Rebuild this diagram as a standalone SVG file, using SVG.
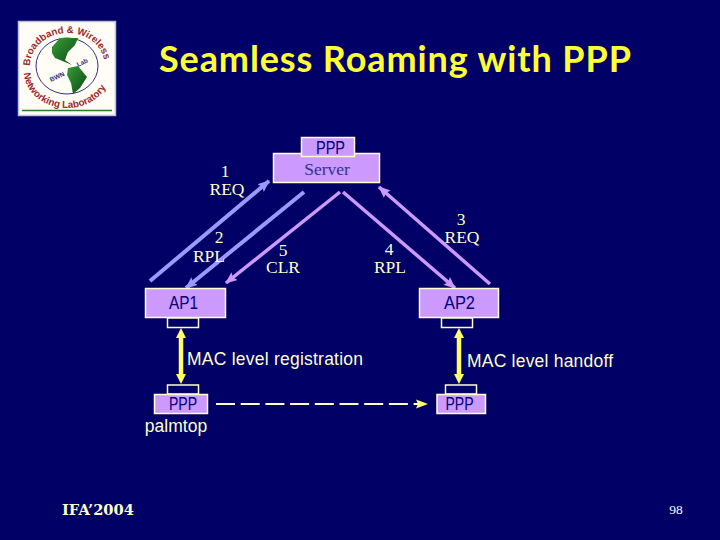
<svg xmlns="http://www.w3.org/2000/svg" width="720" height="540" viewBox="0 0 720 540">
<style>
.box{fill:#cc99ff;stroke:#ffffcc;stroke-width:1.5}
.tab{fill:#000066;stroke:#ffffcc;stroke-width:1.5}
.sans{font-family:"Liberation Sans",Arial,sans-serif}
.serif{font-family:"Liberation Serif","Times New Roman",serif}
.lbl{fill:#ffffcc;font-size:17.5px;text-anchor:middle}
.nm{fill:#000080;font-size:18px;font-weight:500}
.blue{stroke:#9999ff;stroke-width:4;fill:none}
.pur{stroke:#cc99ff;stroke-width:3.5;fill:none}
.yel{stroke:#ffff66;stroke-width:4.5;fill:none}
.lg{font-family:"Liberation Sans",sans-serif;font-size:9.8px;font-weight:bold;fill:#9a2a2a}
</style>
<defs>
<marker id="ab" markerUnits="userSpaceOnUse" markerWidth="14" markerHeight="14" refX="11" refY="7" orient="auto"><path d="M0 2L12 7L0 12L2 7Z" fill="#9999ff"/></marker>
<marker id="ap" markerUnits="userSpaceOnUse" markerWidth="14" markerHeight="14" refX="11" refY="7" orient="auto"><path d="M0 2L12 7L0 12L2 7Z" fill="#cc99ff"/></marker>
<marker id="ay" markerUnits="userSpaceOnUse" markerWidth="12" markerHeight="12" refX="1" refY="6" orient="auto-start-reverse"><path d="M0 1L10 6L0 11Z" fill="#ffff66"/></marker>
<path id="lt" d="M30 66A37.500 33 0 0 1 105 66"/>
<path id="lb" d="M24 72A43 36 0 0 0 110 72"/>
<linearGradient id="gr" x1="0" y1="0" x2="1" y2="1"><stop offset="0" stop-color="#3a9a3a"/><stop offset="1" stop-color="#064a10"/></linearGradient>
</defs>
<rect width="720" height="540" fill="#000066"/>
<g id="logo">
<rect x="18.500" y="21.500" width="97" height="94" fill="#fffdf5" stroke="#b8c0d8" stroke-width="1.500"/>
<ellipse cx="67" cy="66" rx="31" ry="28" fill="none" stroke="#303080"/>
<path d="M52 47L60 38L78 38L75 45L68 52L65 60L72 65L65 62L55 58L52 53Z" fill="url(#gr)"/>
<path d="M68 68L78 66L87 77L80 88L73 94L71 83L67 75Z" fill="url(#gr)"/>
<path d="M22 110.500H112" stroke="#2a7a2a" stroke-width="1.500"/>
<text class="lg"><textPath href="#lt" startOffset="0">Broadband &amp; Wireless</textPath></text>
<text class="lg"><textPath href="#lb" startOffset="1">Networking Laboratory</textPath></text>
<text x="51" y="82" font-family="Liberation Sans,sans-serif" font-size="6.500" font-weight="bold" fill="#303080" transform="rotate(-25 51 82)">BWN</text>
<text x="78" y="67" font-family="Liberation Sans,sans-serif" font-size="6.500" font-weight="bold" fill="#303080" transform="rotate(-25 78 67)">Lab</text>
</g>
<text x="159" y="72" font-family="Lato,'Open Sans',sans-serif" font-size="36" font-weight="bold" fill="#ffff33" textLength="472" lengthAdjust="spacing">Seamless Roaming with PPP</text>
<g id="connectors">
<path class="blue" d="M150 281L269 181" marker-end="url(#ab)"/>
<path class="blue" d="M304 192L186 288" marker-end="url(#ab)"/>
<path class="pur" d="M340 192L226 283" marker-end="url(#ap)"/>
<path class="pur" d="M343 192L455 288" marker-end="url(#ap)"/>
<path class="pur" d="M490 284L379 187" marker-end="url(#ap)"/>
<path class="yel" d="M181 337V375" marker-start="url(#ay)" marker-end="url(#ay)"/>
<path class="yel" d="M459 337V375" marker-start="url(#ay)" marker-end="url(#ay)"/>
<path d="M216 404H420" stroke="#ffffcc" stroke-width="2" stroke-dasharray="19 5.700" fill="none"/>
<path d="M416 399.500L428 404L416 408.500L418 404Z" fill="#ffff66"/>
</g>
<g id="server">
<rect class="box" x="273.500" y="153.500" width="106" height="29"/>
<rect class="box" x="301.500" y="137.500" width="53" height="19"/>
<text x="316" y="154" class="sans nm" textLength="29" lengthAdjust="spacingAndGlyphs">PPP</text>
<text x="327" y="175" class="serif" font-size="17.500" fill="#33338a" text-anchor="middle">Server</text>
</g>
<g id="ap1">
<rect class="box" x="145.500" y="288.500" width="80" height="29"/>
<rect class="tab" x="167.500" y="318" width="31" height="9.500"/>
<text x="169" y="308.500" class="sans nm" textLength="29" lengthAdjust="spacingAndGlyphs">AP1</text>
</g>
<g id="ap2">
<rect class="box" x="419.500" y="288.500" width="79" height="29"/>
<rect class="tab" x="441.500" y="318" width="31" height="9.500"/>
<text x="444" y="308.500" class="sans nm" textLength="31" lengthAdjust="spacingAndGlyphs">AP2</text>
</g>
<g id="palmtop">
<rect class="tab" x="167.500" y="385" width="31" height="9"/>
<rect class="box" x="154.500" y="394.500" width="53" height="19"/>
<text x="169" y="410" class="sans nm" textLength="28" lengthAdjust="spacingAndGlyphs">PPP</text>
<text x="176" y="432" class="sans lbl">palmtop</text>
</g>
<g id="ppp2">
<rect class="tab" x="445.500" y="385" width="31" height="9"/>
<rect class="box" x="437" y="394.500" width="48.500" height="19"/>
<text x="445.500" y="410" class="sans nm" textLength="28" lengthAdjust="spacingAndGlyphs">PPP</text>
</g>
<g id="labels" class="lbl serif">
<text><tspan x="225" y="177">1</tspan><tspan x="227" y="195">REQ</tspan></text>
<text><tspan x="219" y="243">2</tspan><tspan x="209" y="262">RPL</tspan></text>
<text><tspan x="283" y="256">5</tspan><tspan x="283" y="273">CLR</tspan></text>
<text><tspan x="389" y="255">4</tspan><tspan x="390" y="273">RPL</tspan></text>
<text><tspan x="461" y="225">3</tspan><tspan x="462" y="243">REQ</tspan></text>
</g>
<text x="187" y="365" class="sans" font-size="17.500" fill="#ffffcc" textLength="176">MAC level registration</text>
<text x="467" y="367" class="sans" font-size="17.500" fill="#ffffcc" textLength="146">MAC level handoff</text>
<text x="62" y="515" font-family="'DejaVu Serif',serif" font-size="14" font-weight="bold" fill="#ffffcc" textLength="72" lengthAdjust="spacingAndGlyphs">IFA’2004</text>
<text x="676" y="514" class="serif" font-size="13.500" fill="#ffffff" text-anchor="middle">98</text>
</svg>
